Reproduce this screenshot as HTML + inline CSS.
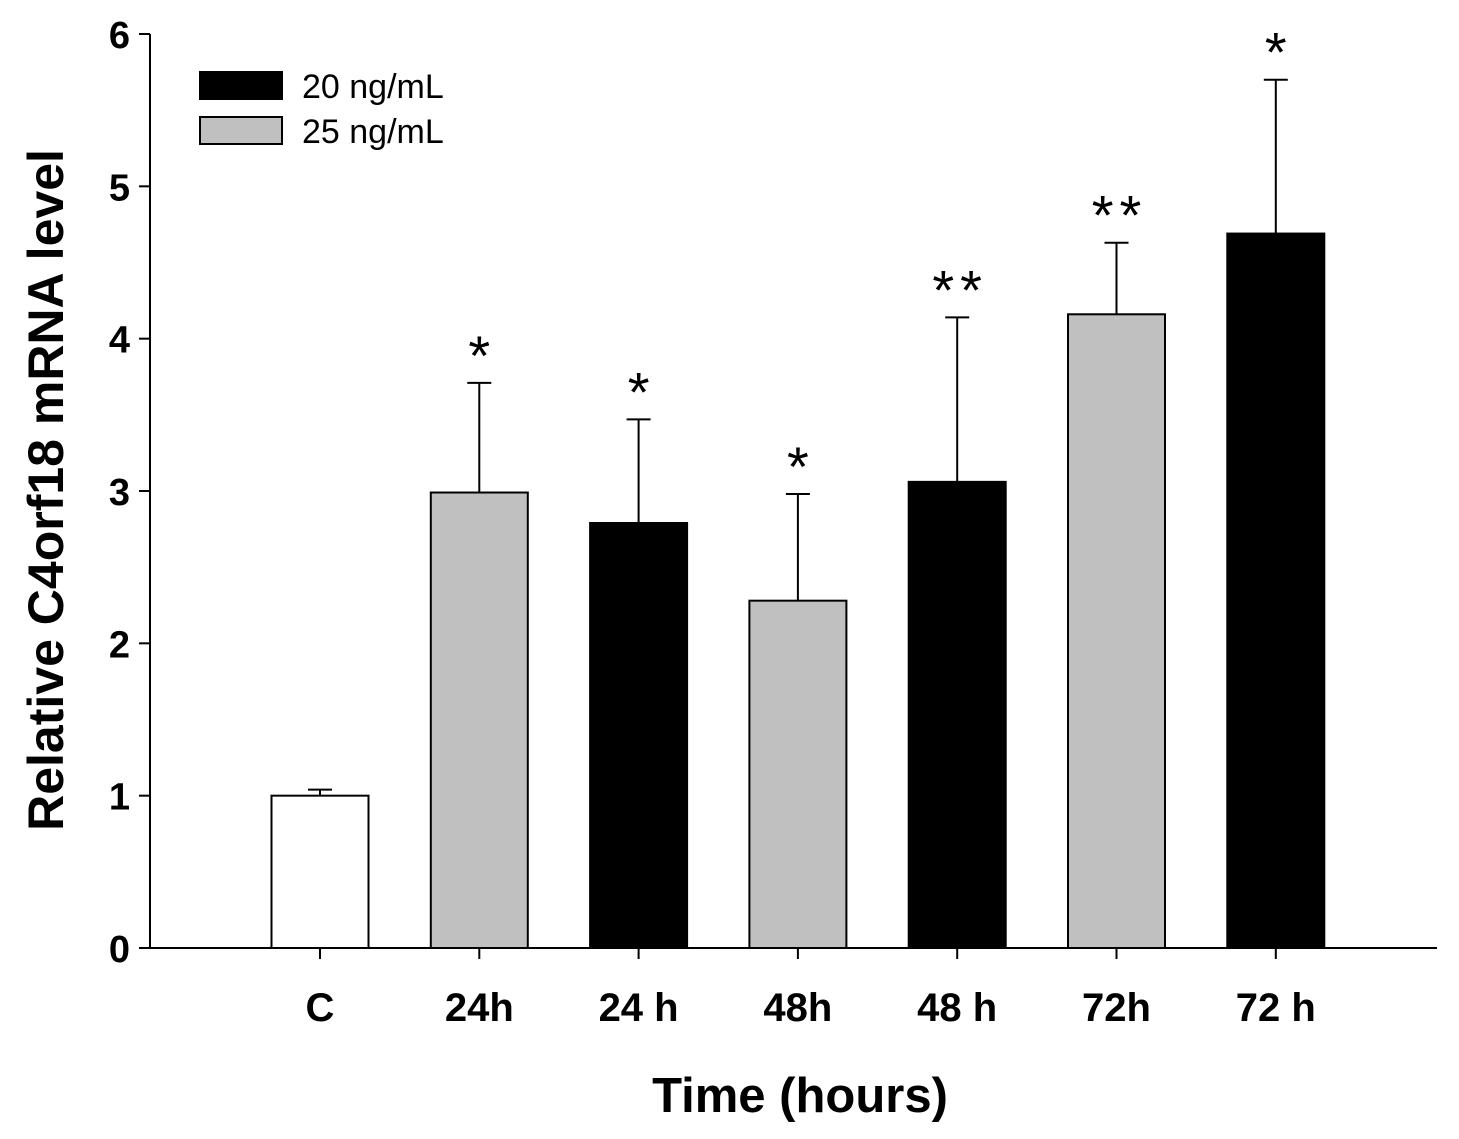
<!DOCTYPE html>
<html><head><meta charset="utf-8"><style>
html,body{margin:0;padding:0;background:#fff;}
svg{display:block;font-family:"Liberation Sans",Arial,sans-serif;}
</style></head><body>
<svg id="chart" width="1459" height="1139" viewBox="0 0 1459 1139" xmlns="http://www.w3.org/2000/svg">
<g id="plot"></g>
<g>
<rect x="200" y="72" width="82" height="27" fill="#000" stroke="#000" stroke-width="2"/>
<text x="302" y="98" font-size="34">20 ng/mL</text>
<rect x="200" y="117" width="82" height="27" fill="#c0c0c0" stroke="#000" stroke-width="2"/>
<text x="302" y="143" font-size="34">25 ng/mL</text>
</g>
<text x="800" y="1112" font-size="49" font-weight="bold" text-anchor="middle">Time (hours)</text>
<text transform="translate(63,490) rotate(-90)" font-size="50" font-weight="bold" text-anchor="middle">Relative C4orf18 mRNA level</text>
</svg>
<script>
const categories = ["C","24h","24 h","48h","48 h","72h","72 h"];
const values = [1.0, 2.99, 2.79, 2.28, 3.06, 4.16, 4.69];
const errors = [0.04, 0.72, 0.68, 0.70, 1.08, 0.47, 1.01];
const groups = ["control","25","20","25","20","25","20"];
const stars = ["","*","*","*","**","**","*"];
const yTicks = [0,1,2,3,4,5,6];

const NS="http://www.w3.org/2000/svg";
const plot=document.getElementById('plot');
const x0=150,x1=1437,yBase=948,yTop=34;
const y=v=>yBase-(v/6)*(yBase-yTop);
const step=159.3, firstC=320, bw=97;
const xc=i=>firstC+i*step;
const fills={control:"#fff","25":"#c0c0c0","20":"#000"};
function mk(tag,attrs){const e=document.createElementNS(NS,tag);for(const k in attrs)e.setAttribute(k,attrs[k]);plot.appendChild(e);return e;}

categories.forEach((c,i)=>{
  const top=y(values[i]), et=y(values[i]+errors[i]);
  const eb=mk('line',{x1:xc(i),x2:xc(i),y1:top,y2:et,stroke:"#000","stroke-width":2});
  
  
  const cap=mk('line',{x1:xc(i)-12,x2:xc(i)+12,y1:et,y2:et,stroke:"#000","stroke-width":2});
  
  
  const r=mk('rect',{x:xc(i)-bw/2,y:top,width:bw,height:yBase-top,fill:fills[groups[i]],stroke:"#000","stroke-width":2});
  
  
  const t=mk('line',{x1:xc(i),x2:xc(i),y1:yBase,y2:yBase+11,stroke:"#000","stroke-width":2});
  
  
  const l=mk('text',{x:xc(i),y:1021,"font-size":40,"font-weight":"bold","text-anchor":"middle"});
  l.textContent=c;
  
  
  if(stars[i]){
    const s=mk('text',{x:xc(i)+3,y:et-8,"font-size":56,"text-anchor":"middle","letter-spacing":"6"});
    s.textContent=stars[i];
    
    
  }
});
yTicks.forEach(v=>{
  const t=mk('line',{x1:x0-11,x2:x0,y1:y(v),y2:y(v),stroke:"#000","stroke-width":2});
  
  
  const l=mk('text',{x:130,y:y(v)+14,"font-size":38,"font-weight":"bold","text-anchor":"end"});
  l.textContent=v;
  
  
});
const ya=mk('line',{x1:x0,x2:x0,y1:yTop,y2:yBase,stroke:"#000","stroke-width":2});


const xa=mk('line',{x1:x0,x2:x1,y1:yBase,y2:yBase,stroke:"#000","stroke-width":2});


</script>
</body></html>
